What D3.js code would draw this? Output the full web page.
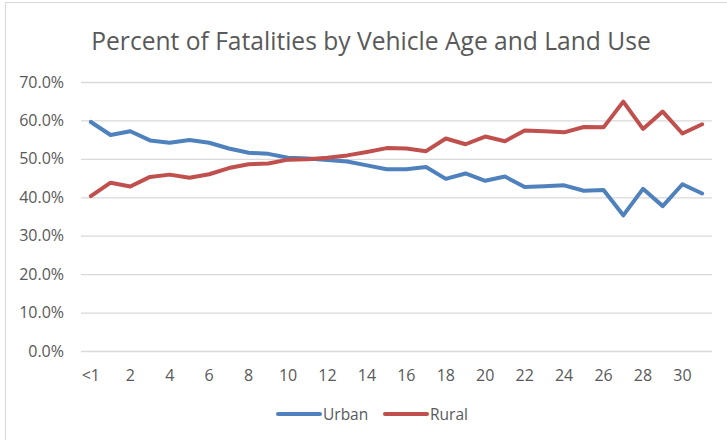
<!DOCTYPE html>
<html>
<head>
<meta charset="utf-8">
<script src="https://cdn.jsdelivr.net/npm/d3@7/dist/d3.min.js"></script>
<style>
  html, body { margin: 0; padding: 0; background: #fff; }
  svg { display: block; font-family: "Open Sans", "Noto Sans", sans-serif; }
</style>
</head>
<body>
<svg id="chart" width="727" height="440"></svg>
<script>
// Vehicle age categories (years)
const ages = ["<1","1","2","3","4","5","6","7","8","9","10","11","12","13","14","15",
              "16","17","18","19","20","21","22","23","24","25","26","27","28","29","30","31"];

// Percent of fatalities, urban land use
const urban = [59.6, 56.2, 57.2, 54.8, 54.2, 54.9, 54.2, 52.7, 51.6, 51.3, 50.3, 50.1, 49.7, 49.3, 48.3, 47.3,
               47.3, 47.9, 44.8, 46.2, 44.3, 45.4, 42.7, 42.9, 43.1, 41.7, 41.9, 35.3, 42.2, 37.7, 43.4, 41.0];

// Percent of fatalities, rural land use
const rural = [40.3, 43.8, 42.8, 45.3, 45.9, 45.1, 46.0, 47.6, 48.6, 48.8, 49.8, 49.9, 50.3, 50.9, 51.8, 52.8,
               52.7, 52.0, 55.3, 53.8, 55.8, 54.6, 57.4, 57.2, 56.9, 58.3, 58.2, 64.9, 57.8, 62.3, 56.6, 59.0];

const yTicks = [0, 10, 20, 30, 40, 50, 60, 70];
const xTickLabels = ["<1","2","4","6","8","10","12","14","16","18","20","22","24","26","28","30"];

const seriesList = [
  { name: "Urban", values: urban, color: "#4F81BD" },
  { name: "Rural", values: rural, color: "#C0504D" }
];

const svg = d3.select("#chart");
const textColor = "#595959";
const gridColor = "#d9d9d9";

// chart frame
svg.append("rect")
  .attr("x", 5.5).attr("y", 2.5)
  .attr("width", 760).attr("height", 480)
  .attr("fill", "#fff").attr("stroke", gridColor).attr("stroke-width", 1);

const plot = { left: 81, right: 712, top: 82, bottom: 351 };

const x = d3.scaleBand().domain(ages).range([plot.left, plot.right]);
const y = d3.scaleLinear().domain([0, 70]).range([plot.bottom, plot.top]);
const cx = d => x(d) + x.bandwidth() / 2;

// title
svg.append("text")
  .attr("x", 371).attr("y", 50)
  .attr("text-anchor", "middle")
  .attr("fill", textColor)
  .style("font-size", "24.6px")
  .text("Percent of Fatalities by Vehicle Age and Land Use");

// horizontal gridlines + y axis labels
const yAxis = d3.axisLeft(y)
  .tickValues(yTicks)
  .tickSize(-(plot.right - plot.left))
  .tickPadding(17)
  .tickFormat(d => d3.format(".1f")(d) + "%");

const yg = svg.append("g")
  .attr("transform", `translate(${plot.left},0)`)
  .call(yAxis);
yg.select(".domain").remove();
yg.selectAll(".tick line").attr("stroke", gridColor).attr("stroke-width", 1.3);
yg.selectAll(".tick text")
  .attr("fill", textColor)
  .style("font-size", "16px")
  .style("font-family", "'Open Sans', sans-serif");

// x axis labels (every second category)
const xAxis = d3.axisBottom(x)
  .tickValues(xTickLabels)
  .tickSize(0)
  .tickPadding(19);
const xg = svg.append("g")
  .attr("transform", `translate(0,${plot.bottom})`)
  .call(xAxis);
xg.select(".domain").remove();
xg.selectAll(".tick text")
  .attr("fill", textColor)
  .style("font-size", "16px")
  .style("font-family", "'Open Sans', sans-serif");

// series lines
const line = d3.line()
  .x((d, i) => cx(ages[i]))
  .y(d => y(d));

svg.selectAll("path.series")
  .data(seriesList)
  .join("path")
  .attr("class", "series")
  .attr("d", s => line(s.values))
  .attr("fill", "none")
  .attr("stroke", s => s.color)
  .attr("stroke-width", 4)
  .attr("stroke-linejoin", "round")
  .attr("stroke-linecap", "round");

// legend
const legendItems = [
  { s: seriesList[0], x0: 278 },
  { s: seriesList[1], x0: 385 }
];
const lg = svg.append("g");
legendItems.forEach(it => {
  lg.append("line")
    .attr("x1", it.x0).attr("x2", it.x0 + 42)
    .attr("y1", 414).attr("y2", 414)
    .attr("stroke", it.s.color).attr("stroke-width", 4)
    .attr("stroke-linecap", "round");
  lg.append("text")
    .attr("x", it.x0 + 45).attr("y", 420)
    .attr("fill", textColor)
    .style("font-size", "15.5px")
    .text(it.s.name);
});
</script>
</body>
</html>
